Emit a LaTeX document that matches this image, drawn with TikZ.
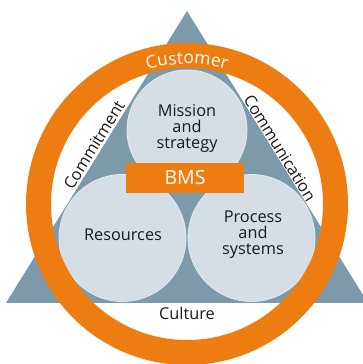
\documentclass[tikz,border=0pt]{standalone}
\usepackage{fontspec}
\setmainfont{Open Sans}
\usetikzlibrary{decorations.text}
\definecolor{bmsorange}{HTML}{EE7D11}
\definecolor{trigray}{HTML}{7D9AAA}
\definecolor{circfill}{HTML}{D5DEE5}
\definecolor{circline}{HTML}{E4EAEE}
\definecolor{txtdark}{HTML}{1A1A1A}
\begin{document}
\begin{tikzpicture}[x=1pt,y=1pt,
  pillar/.style={circle, fill=circfill, draw=circline, line width=0.8pt, inner sep=0pt},
  label/.style={font=\fontsize{16.3}{16}\selectfont, text=txtdark, align=center, inner sep=0pt},
  sidelabel/.style={font=\fontsize{16.3}{16}\selectfont, text=txtdark, inner sep=0pt}]
\useasboundingbox (0,0) rectangle (363,364);
\clip (0,0) rectangle (363,364);
\fill[white] (0,0) rectangle (363,364);
% triangle
\coordinate (apex) at (187,353);
\coordinate (bl) at (6,61);
\coordinate (br) at (368,61);
\fill[trigray] (apex) -- (bl) -- (br) -- cycle;
% pillars
\node[pillar, minimum size=120pt] (mission) at (187,234) {};
\node[pillar, minimum size=127pt] (resources) at (122.5,126) {};
\node[pillar, minimum size=127pt] (process) at (251.5,126) {};
\node[label] at (187,236) {Mission\\and\\strategy};
\node[label] at (123,129) {Resources};
\node[label] at (253,129) {Process\\and\\systems};
% BMS box
\node[fill=bmsorange, minimum width=118pt, minimum height=30pt, inner sep=0pt,
  text=white, font=\fontsize{19.5}{19.5}\selectfont] (bms) at (185,186) {BMS};
% ring
\coordinate (c) at (187,160);
\draw[bmsorange, line width=25pt] (c) circle[radius=148.5];
% Customer
\path[decorate, decoration={text along path, text color=white, text align=center,
  text={|\fontsize{17.5}{18}\selectfont|Customer}}]
  (c) ++(130:140) arc[start angle=130, end angle=50, radius=140];
% side labels
\node[sidelabel, rotate=58.2] (commit) at (94,219) {Commitment};
\node[sidelabel, rotate=-58.2] (commun) at (280,216) {Communication};
\node[label] (culture) at (187,51) {Culture};
\end{tikzpicture}
\end{document}
